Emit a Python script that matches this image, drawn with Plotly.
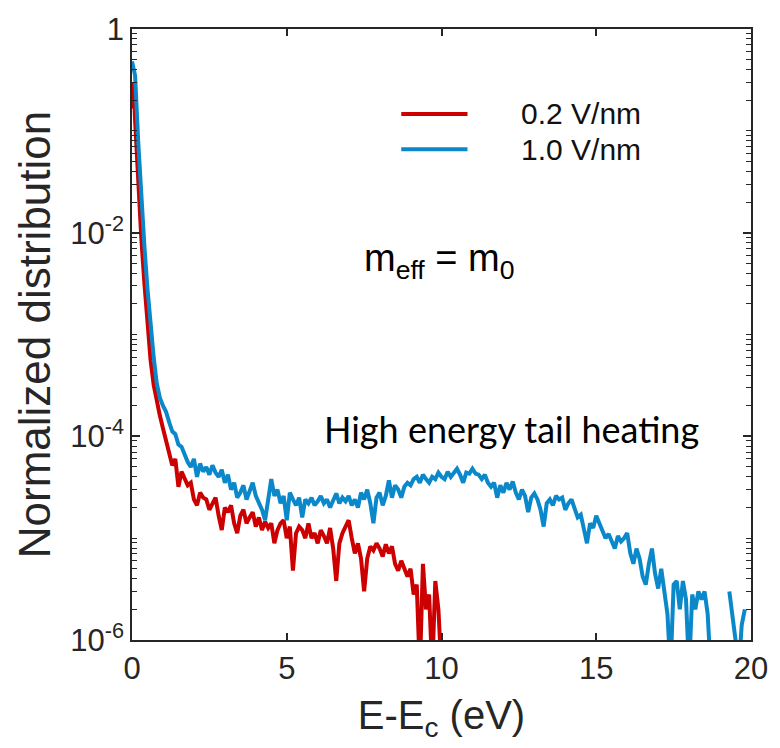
import plotly.graph_objects as go

# ---------------- data ----------------
energy_blue = [round(0.1 * i, 1) for i in range(199)]  # 0.0 .. 19.8 eV
dist_blue = [
    0.48, 0.35, 0.079, 0.020, 7.4e-3, 2.8e-3, 1.26e-3, 6.0e-4, 3.3e-4, 2.4e-4,
    2.0e-4, 1.74e-4, 1.38e-4, 1.12e-4, 1.05e-4, 8.3e-5, 7.9e-5, 6.6e-5, 5.6e-5, 5.0e-5,
    6.0e-5, 4.0e-5, 5.4e-5, 4.5e-5, 5.0e-5, 4.2e-5, 5.2e-5, 4.4e-5, 4.0e-5, 4.7e-5,
    3.5e-5, 4.2e-5, 3.0e-5, 3.5e-5, 2.5e-5, 2.8e-5, 3.3e-5, 2.4e-5, 3.0e-5, 3.5e-5,
    2.6e-5, 2.2e-5, 1.9e-5, 1.5e-5, 2.5e-5, 3.8e-5, 2.6e-5, 3.0e-5, 2.2e-5, 2.6e-5,
    1.5e-5, 2.8e-5, 2.4e-5, 2.1e-5, 2.5e-5, 1.6e-5, 2.4e-5, 2.2e-5, 2.5e-5, 2.1e-5,
    2.3e-5, 2.6e-5, 2.2e-5, 2.4e-5, 2.0e-5, 2.3e-5, 2.75e-5, 2.2e-5, 2.5e-5, 2.3e-5,
    2.6e-5, 2.1e-5, 2.4e-5, 2.0e-5, 2.8e-5, 2.4e-5, 3.0e-5, 2.2e-5, 1.4e-5, 2.5e-5,
    2.8e-5, 2.1e-5, 2.6e-5, 3.7e-5, 2.5e-5, 3.3e-5, 3.0e-5, 2.5e-5, 3.2e-5, 3.5e-5,
    3.3e-5, 3.8e-5, 4.0e-5, 3.5e-5, 4.2e-5, 3.8e-5, 3.5e-5, 4.0e-5, 3.8e-5, 4.4e-5,
    4.0e-5, 3.8e-5, 4.5e-5, 4.0e-5, 4.4e-5, 4.8e-5, 4.2e-5, 3.5e-5, 4.4e-5, 4.3e-5,
    4.8e-5, 4.3e-5, 4.2e-5, 3.8e-5, 4.2e-5, 3.5e-5, 3.2e-5, 3.5e-5, 2.5e-5, 3.3e-5,
    2.8e-5, 3.5e-5, 3.0e-5, 3.6e-5, 2.8e-5, 2.4e-5, 3.0e-5, 2.6e-5, 1.8e-5, 2.5e-5,
    2.75e-5, 2.4e-5, 1.9e-5, 1.3e-5, 2.2e-5, 2.4e-5, 2.1e-5, 2.6e-5, 2.4e-5, 2.5e-5,
    1.9e-5, 2.2e-5, 2.4e-5, 1.9e-5, 1.6e-5, 1.7e-5, 1.26e-5, 8.9e-6, 1.4e-5, 1.26e-5,
    1.66e-5, 1.4e-5, 1.2e-5, 1.0e-5, 1.1e-5, 9.5e-6, 7.9e-6, 1.05e-5, 9.3e-6, 1.0e-5,
    1.12e-5, 7.1e-6, 5.6e-6, 7.9e-6, 6.3e-6, 4.2e-6, 3.5e-6, 5.6e-6, 7.9e-6, 4.5e-6,
    3.2e-6, 5.0e-6, 2.8e-6, 1.8e-6, 5.0e-7, 3.5e-6, 3.8e-6, 2.0e-6, 3.8e-6, 2.5e-6,
    5.0e-7, 2.8e-6, 2.0e-6, 3.0e-6, 2.5e-6, 3.0e-6, 1.8e-6, 5.0e-7, None, None,
    None, None, None, 3.0e-6, 1.8e-6, 1.0e-6, 5.0e-7, 1.4e-6, 2.0e-6,
]

energy_red = [0.0, 0.05] + [round(0.1 * i, 1) for i in range(1, 102)]  # .. 10.1 eV
dist_red = [
    0.166, 0.30,
    0.126, 0.028, 8.9e-3, 3.2e-3, 1.26e-3, 5.6e-4, 3.2e-4, 2.2e-4, 1.6e-4,
    1.2e-4, 8.9e-5, 7.1e-5, 5.2e-5, 6.0e-5, 3.2e-5, 4.5e-5, 3.8e-5, 3.3e-5, 3.5e-5,
    2.4e-5, 2.1e-5, 2.8e-5, 2.5e-5, 2.4e-5, 1.9e-5, 2.2e-5, 2.5e-5, 1.66e-5, 1.2e-5,
    2.0e-5, 1.8e-5, 2.1e-5, 1.4e-5, 1.12e-5, 1.66e-5, 1.9e-5, 1.4e-5, 1.6e-5, 1.8e-5,
    1.3e-5, 1.6e-5, 1.2e-5, 1.45e-5, 1.26e-5, 1.4e-5, 8.9e-6, 1.2e-5, 1.4e-5, 1.5e-5,
    1.0e-5, 1.3e-5, 4.8e-6, 1.12e-5, 1.3e-5, 1.2e-5, 1.0e-5, 1.4e-5, 1.0e-5, 1.12e-5,
    8.9e-6, 1.2e-5, 1.05e-5, 8.9e-6, 1.26e-5, 7.9e-6, 3.8e-6, 8.9e-6, 1.12e-5, 1.3e-5,
    1.5e-5, 1.0e-5, 7.1e-6, 8.9e-6, 6.3e-6, 3.0e-6, 6.3e-6, 8.3e-6, 7.6e-6, 8.9e-6,
    7.9e-6, 6.6e-6, 8.7e-6, 7.1e-6, 8.3e-6, 5.6e-6, 4.8e-6, 6.0e-6, 5.0e-6, 4.2e-6,
    5.0e-6, 2.8e-6, 3.5e-6, 5.0e-7, 5.6e-6, 2.0e-6, 2.8e-6, 5.0e-7, 3.8e-6, 2.0e-6,
    5.0e-7, 5.0e-7,
]

series_names = ["0.2 V/nm", "1.0 V/nm"]
x_ticks = [0, 5, 10, 15, 20]
y_major = [1, 1e-2, 1e-4, 1e-6]
y_major_text = ["1", "10<sup>-2</sup>", "10<sup>-4</sup>", "10<sup>-6</sup>"]

# ---------------- style ----------------
RED = "#CC0000"
BLUE = "#0A88CA"
AX = "#262626"
SANS = "Liberation Sans, Arial, sans-serif"

fig = go.Figure()
fig.add_trace(go.Scatter(x=energy_red, y=dist_red, mode="lines", name=series_names[0],
                         line=dict(color=RED, width=4), connectgaps=False))
fig.add_trace(go.Scatter(x=energy_blue, y=dist_blue, mode="lines", name=series_names[1],
                         line=dict(color=BLUE, width=4), connectgaps=False))

fig.update_layout(
    width=780, height=748,
    margin=dict(l=132, r=25, t=20, b=108),
    paper_bgcolor="white", plot_bgcolor="white",
    showlegend=False,
    font=dict(family=SANS, color=AX),
    xaxis=dict(
        range=[0, 20], tickmode="array", tickvals=x_ticks,
        ticks="inside", ticklen=7, tickwidth=1.5, tickcolor=AX,
        showline=True, linecolor=AX, linewidth=1.5, mirror="ticks",
        showgrid=False, zeroline=False, automargin=True,
        tickfont=dict(size=31, family=SANS, color=AX),
        title=dict(text="E-E<sub>c</sub> (eV)", font=dict(size=40, family=SANS, color=AX),
                   standoff=16),
    ),
    yaxis=dict(
        type="log", range=[-6, 0], tickmode="array",
        tickvals=y_major, ticktext=y_major_text,
        ticks="inside", ticklen=8, tickwidth=1.5, tickcolor=AX,
        minor=dict(ticks="inside", dtick="D1", ticklen=5, tickwidth=1.3,
                   tickcolor=AX, showgrid=False),
        showline=True, linecolor=AX, linewidth=1.5, mirror="ticks",
        showgrid=False, zeroline=False,
        tickfont=dict(size=31, family=SANS, color=AX),
        title=dict(text="Normalized distribution", font=dict(size=44, family=SANS, color=AX),
                   standoff=6),
    ),
)

# legend drawn without a box, as in the reference
legend_rows = [(0.861, RED, series_names[0]), (0.803, BLUE, series_names[1])]
for yy, col, name in legend_rows:
    fig.add_shape(type="line", xref="paper", yref="paper", x0=0.435, x1=0.542, y0=yy, y1=yy,
                  line=dict(color=col, width=4))
    fig.add_annotation(xref="paper", yref="paper", x=0.626, y=yy, text=name, showarrow=False,
                       xanchor="left", yanchor="middle",
                       font=dict(size=30, family=SANS, color="#111"))

fig.add_annotation(xref="paper", yref="paper", x=0.372, y=0.62,
                   text="m<sub>eff</sub> = m<sub>0</sub>", showarrow=False,
                   xanchor="left", yanchor="middle",
                   font=dict(size=38, family=SANS, color="black"))
fig.add_annotation(xref="paper", yref="paper", x=0.3066, y=0.346,
                   text="High energy tail heating", showarrow=False,
                   xanchor="left", yanchor="middle",
                   font=dict(size=36, family="Lato, Open Sans, sans-serif", color="black"))

fig.write_html("out.html")
